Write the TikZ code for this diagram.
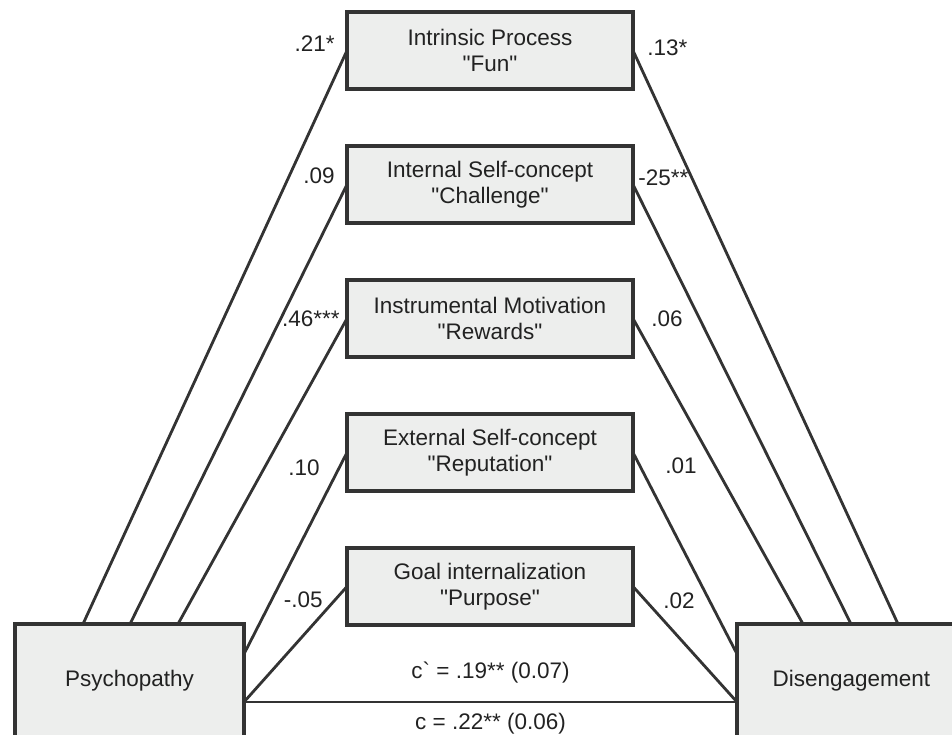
\documentclass[tikz,border=0pt]{standalone}
\usepackage{fontspec}
\setmainfont{Liberation Sans}
\usepackage{tikz}
\usetikzlibrary{positioning,calc}
\definecolor{boxfill}{HTML}{EDEEED}
\definecolor{linegray}{HTML}{333333}
\definecolor{txtgray}{HTML}{222222}
\newcommand{\qt}[1]{\textquotedbl#1\textquotedbl}
\tikzset{
  varbox/.style={draw=linegray, fill=boxfill, line width=2pt, text=txtgray, align=center, inner sep=0pt, outer sep=0pt},
  medbox/.style={varbox, minimum width=5.72cm, minimum height=1.54cm},
  endbox/.style={varbox, minimum width=4.58cm, minimum height=2.28cm},
  coef/.style={text=txtgray, inner sep=0pt},
  link/.style={draw=linegray, line width=1.6pt},
}

\begin{document}
\begin{tikzpicture}[font=\fontsize{12.8}{14.8}\selectfont]
\useasboundingbox (0,0) rectangle (19.04,-14.7);
% nodes
\node[medbox] (fun) at (9.8,-1.01) {Intrinsic Process\\\qt{Fun}};
\node[medbox, below=1.14cm of fun] (chal) {Internal Self-concept\\\qt{Challenge}};
\node[medbox, below=1.14cm of chal] (rew) {Instrumental Motivation\\\qt{Rewards}};
\node[medbox, below=1.14cm of rew] (rep) {External Self-concept\\\qt{Reputation}};
\node[medbox, below=1.14cm of rep] (purp) {Goal internalization\\\qt{Purpose}};
\node[endbox] (psy) at (2.59,-13.62) {Psychopathy};
\node[endbox] (dis) at (17.03,-13.62) {Disengagement};

% contact points on the two outer boxes
\coordinate (p1) at ([xshift=-3.22cm]psy.north east);
\coordinate (p2) at ([xshift=-2.28cm]psy.north east);
\coordinate (p3) at ([xshift=-1.32cm]psy.north east);
\coordinate (p4) at ([yshift=-0.6cm]psy.north east);
\coordinate (p5) at ([yshift=-1.56cm]psy.north east);
\coordinate (d1) at ([xshift=3.22cm]dis.north west);
\coordinate (d2) at ([xshift=2.28cm]dis.north west);
\coordinate (d3) at ([xshift=1.32cm]dis.north west);
\coordinate (d4) at ([yshift=-0.6cm]dis.north west);
\coordinate (d5) at ([yshift=-1.56cm]dis.north west);

% edges
\draw[link] (p1) -- (fun.west);
\draw[link] (p2) -- (chal.west);
\draw[link] (p3) -- (rew.west);
\draw[link] (p4) -- (rep.west);
\draw[link] (p5) -- (purp.west);
\draw[link] (fun.east) -- (d1);
\draw[link] (chal.east) -- (d2);
\draw[link] (rew.east) -- (d3);
\draw[link] (rep.east) -- (d4);
\draw[link] (purp.east) -- (d5);
\draw[link] (p5) -- (d5)
  node[coef, midway, above=0.34cm] (cdir) {c\textasciigrave{} = .19** (0.07)}
  node[coef, midway, below=0.2cm] (ctot) {c = .22** (0.06)};

% coefficients
\node[coef, left=0.24cm of fun.west, yshift=0.14cm] (a1) {.21*};
\node[coef, left=0.24cm of chal.west, yshift=0.18cm] (a2) {.09};
\node[coef, left=0.14cm of rew.west] (a3) {.46***};
\node[coef, left=0.54cm of rep.west, yshift=-0.3cm] (a4) {.10};
\node[coef, left=0.48cm of purp.west, yshift=-0.26cm] (a5) {-.05};
\node[coef, right=0.28cm of fun.east, yshift=0.06cm] (b1) {.13*};
\node[coef, right=0.1cm of chal.east, yshift=0.14cm] (b2) {-25**};
\node[coef, right=0.36cm of rew.east] (b3) {.06};
\node[coef, right=0.64cm of rep.east, yshift=-0.26cm] (b4) {.01};
\node[coef, right=0.6cm of purp.east, yshift=-0.28cm] (b5) {.02};
\end{tikzpicture}
\end{document}
